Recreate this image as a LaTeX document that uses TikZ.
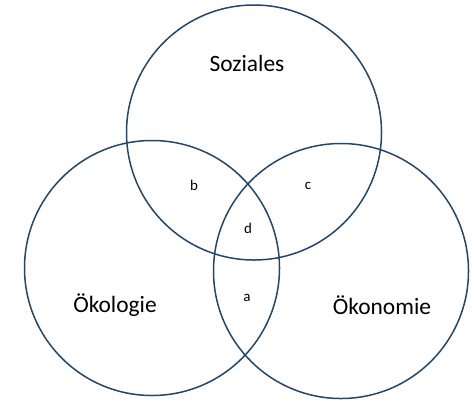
\documentclass[tikz,border=0pt]{standalone}
\usepackage{fontspec}
\setmainfont{Carlito}
\definecolor{ringblue}{RGB}{36,70,104}
\begin{document}
\begin{tikzpicture}[x=1bp,y=-1bp,
  ring/.style={circle,draw=ringblue,line width=1.5bp,minimum size=255bp,inner sep=0pt},
  bigtxt/.style={font=\fontsize{23.5}{27}\selectfont,text=black,inner sep=0pt},
  smalltxt/.style={font=\fontsize{15}{17}\selectfont,text=black,inner sep=0pt}]
\useasboundingbox (0,0) rectangle (473,399);
\node[ring] (soz) at (254,132.5) {};
\node[ring] (oek) at (152,268) {};
\node[ring] (eko) at (341,271) {};
\node[bigtxt] (tsoz) at (247,63) {Soziales};
\node[bigtxt] (toek) at (115,305) {Ökologie};
\node[bigtxt] (teko) at (382,305) {Ökonomie};
\node[smalltxt] (b) at (194,185) {b};
\node[smalltxt] (c) at (308,186) {c};
\node[smalltxt] (d) at (248,228) {d};
\node[smalltxt] (a) at (247,298) {a};
\end{tikzpicture}
\end{document}
